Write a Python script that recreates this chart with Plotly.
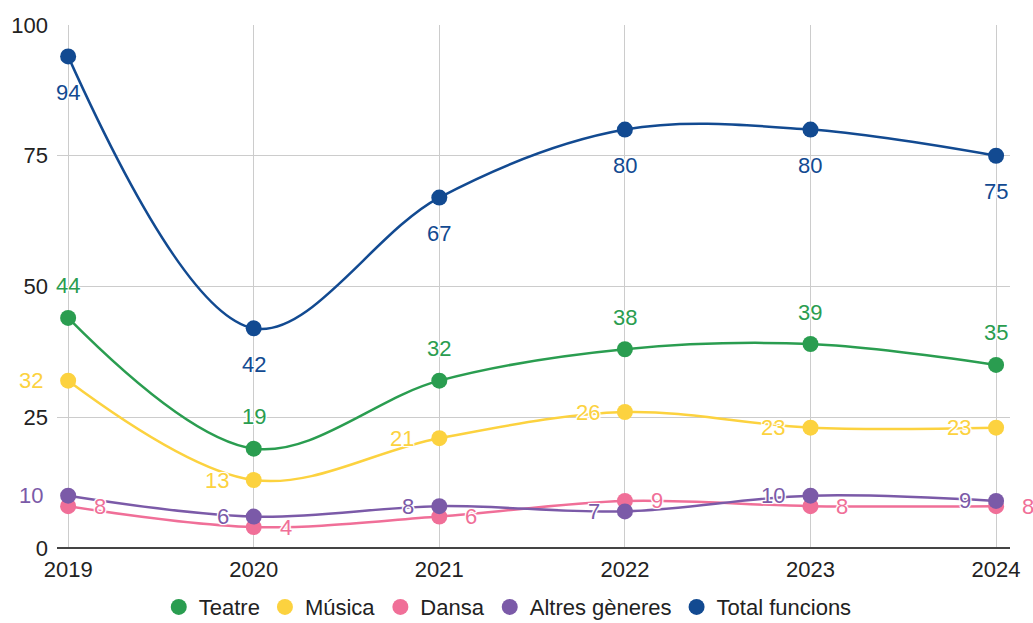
import plotly.graph_objects as go

years = [2019, 2020, 2021, 2022, 2023, 2024]

teatre = [44, 19, 32, 38, 39, 35]
musica = [32, 13, 21, 26, 23, 23]
dansa = [8, 4, 6, 9, 8, 8]
altres = [10, 6, 8, 7, 10, 9]
total = [94, 42, 67, 80, 80, 75]

y_ticks = [0, 25, 50, 75, 100]

# white halo around the data labels, like the stroke in the original
halo = "-1px -1px 0 #fff, 1px -1px 0 #fff, -1px 1px 0 #fff, 1px 1px 0 #fff, 0 0 3px #fff"
FONT = "Liberation Sans, Arial"

# name, values, colour, label placement (xanchor, yanchor, xshift, yshift)
series = [
    ("Teatre", teatre, "#2a9d50", ("center", "middle", 0, 32)),
    ("Música", musica, "#fcd23f", ("right", "middle", -23, 0)),
    ("Dansa", dansa, "#f06f98", ("left", "middle", 24, 0)),
    ("Altres gèneres", altres, "#7b5aa8", ("right", "middle", -23, 0)),
    ("Total funcions", total, "#124a91", ("center", "middle", 0, -36)),
]

fig = go.Figure()
annotations = []
for name, vals, color, (xa, ya, xs, ys) in series:
    fig.add_trace(go.Scatter(
        x=years, y=vals, name=name, showlegend=False,
        mode="lines+markers",
        line=dict(color=color, width=2.5, shape="spline", smoothing=1),
        marker=dict(color=color, size=16),
        cliponaxis=False,
    ))
    # legend entry: circle only
    fig.add_trace(go.Scatter(
        x=[None], y=[None], name=name, mode="markers",
        marker=dict(color=color, size=16),
    ))
    for x, v in zip(years, vals):
        annotations.append(dict(
            x=x, y=v, xref="x", yref="y", text=str(v), showarrow=False,
            xanchor=xa, yanchor=ya, xshift=xs, yshift=ys,
            font=dict(color=color, size=22, family=FONT, shadow=halo),
        ))

fig.update_layout(
    width=1033, height=623,
    margin=dict(l=57, r=23, t=25, b=75, autoexpand=False),
    paper_bgcolor="white", plot_bgcolor="white",
    font=dict(family=FONT, size=22, color="#222"),
    showlegend=True,
    annotations=annotations,
    legend=dict(orientation="h", x=0.473, xanchor="center", y=-0.113, yanchor="middle",
                font=dict(size=22, color="#222"), itemwidth=30, tracegroupgap=0),
    xaxis=dict(range=[2018.94, 2024.075], tickvals=years, showgrid=True,
               gridcolor="#cccccc", gridwidth=1, zeroline=False, showline=False,
               ticks="", ticklabelstandoff=6, automargin=False,
               tickfont=dict(size=22, color="#222")),
    yaxis=dict(range=[0, 100], tickvals=y_ticks, showgrid=True,
               gridcolor="#cccccc", gridwidth=1, zeroline=True, zerolinecolor="#444",
               zerolinewidth=1.5, showline=False, ticks="", ticklabelstandoff=8,
               automargin=False, tickfont=dict(size=22, color="#222")),
)

# drop the browser's default body margin so the figure sits at the page corner
fig.write_html("out.html", config={"displayModeBar": False},
               post_script="document.body.style.margin='0';")
